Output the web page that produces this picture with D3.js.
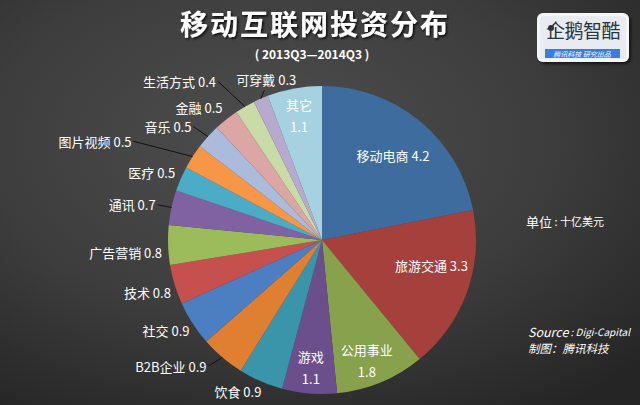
<!DOCTYPE html>
<html><head><meta charset="utf-8">
<script src="https://cdn.jsdelivr.net/npm/d3@7"></script>
<style>html,body{margin:0;padding:0;background:#333;}svg{display:block;}</style>
</head><body>
<svg id="chart" width="640" height="405"></svg>
<script>
// ---- data ----
const categories = ["移动电商","旅游交通","公用事业","游戏","饮食","B2B企业","社交","技术","广告营销","通讯","医疗","图片视频","音乐","金融","生活方式","可穿戴","其它"];
const values     = [4.2, 3.3, 1.8, 1.1, 0.9, 0.9, 0.9, 0.8, 0.8, 0.7, 0.5, 0.5, 0.5, 0.5, 0.4, 0.3, 1.1];
const colors     = ["#3f6c9f","#a5403d","#87a14c","#6a4f8c","#3a94aa","#e07f31","#4c7ec2","#c5504e","#9cbb5a","#8062a3","#4bacc6","#f79647","#aabbdc","#dca6a5","#c9dba6","#b8aacf","#a6d1e0"];
const insideSet  = ["移动电商","旅游交通","公用事业","游戏","其它"];
const twoLine    = ["公用事业","游戏","其它"];
const title = "移动互联网投资分布";
const subtitle = "( 2013Q3—2014Q3 )";

// ---- layout (not data) ----
const W = 640, H = 405, cx = 322, cy = 240, R = 154;
// label nudges: [radius, dx, dy]
const labelLayout = {
  "移动电商":[112,0,2], "旅游交通":[112,4,-12], "公用事业":[112,2,17], "游戏":[112,-2,15], "其它":[112,-3,-15],
  "饮食":[160,3,5], "B2B企业":[160,-12,4], "社交":[160,2,4], "技术":[160,2,6], "广告营销":[160,0,7],
  "通讯":[162,-8,-1], "医疗":[160,0,-4], "图片视频":[160,-56,-12], "音乐":[160,-12,-6],
  "金融":[160,0,-7], "生活方式":[160,-26,-20], "可穿戴":[150,4,-23]
};
const leaders = ["通讯","图片视频","音乐","生活方式","可穿戴","B2B企业"];

const svg = d3.select("#chart");
const defs = svg.append("defs");
const grad = defs.append("radialGradient").attr("id","bg").attr("cx","42%").attr("cy","35%").attr("r","80%");
grad.append("stop").attr("offset","0%").attr("stop-color","#4e4e4e");
grad.append("stop").attr("offset","55%").attr("stop-color","#3d3d3d");
grad.append("stop").attr("offset","100%").attr("stop-color","#252525");
svg.append("rect").attr("width",W).attr("height",H).attr("fill","url(#bg)");

const sh = defs.append("filter").attr("id","tshadow").attr("x","-10%").attr("y","-30%").attr("width","120%").attr("height","160%");
sh.append("feDropShadow").attr("dx",1.5).attr("dy",1.5).attr("stdDeviation",1).attr("flood-color","#000").attr("flood-opacity",0.8);
const sh2 = defs.append("filter").attr("id","boxshadow").attr("x","-20%").attr("y","-20%").attr("width","140%").attr("height","150%");
sh2.append("feDropShadow").attr("dx",2).attr("dy",2).attr("stdDeviation",1.5).attr("flood-color","#000").attr("flood-opacity",0.6);

const font = "'Noto Sans CJK SC','Noto Sans',sans-serif";

// title
svg.append("text").attr("x",315).attr("y",23).attr("text-anchor","middle").attr("dominant-baseline","central")
  .attr("font-family",font).attr("font-weight","bold").attr("font-size",28).attr("letter-spacing",2)
  .attr("fill","#ffffff").attr("filter","url(#tshadow)").text(title);
svg.append("text").attr("x",312).attr("y",53).attr("text-anchor","middle").attr("dominant-baseline","central")
  .attr("font-family",font).attr("font-weight","bold").attr("font-size",12)
  .attr("fill","#ffffff").text(subtitle);

// pie
const data = categories.map((c,i)=>({name:c, value:values[i], color:colors[i]}));
const pie = d3.pie().value(d=>d.value).sort(null);
const arcs = pie(data);
const arc = d3.arc().innerRadius(0).outerRadius(R);
const g = svg.append("g").attr("transform",`translate(${cx},${cy})`);
g.selectAll("path.slice").data(arcs).join("path").attr("class","slice")
  .attr("d",arc).attr("fill",d=>d.data.color).attr("stroke","none");

function polar(a, r){ return [r*Math.sin(a), -r*Math.cos(a)]; }

// leader lines
arcs.forEach(d=>{
  if(!leaders.includes(d.data.name)) return;
  const mid = (d.startAngle+d.endAngle)/2;
  const [ex,ey] = polar(mid, R);
  const L = labelLayout[d.data.name];
  const [lx,ly] = polar(mid, L[0]);
  let tx = lx+L[1]+2, ty = ly+L[2];
  if(d.data.name==="可穿戴"){ tx = lx+L[1]-2; ty = ly+L[2]+11; }
  g.append("path").attr("d",`M${tx},${ty}L${ex},${ey}`).attr("stroke","#111").attr("stroke-width",1).attr("fill","none");
});

// labels
arcs.forEach(d=>{
  const name = d.data.name, v = d3.format(".1f")(d.data.value);
  const mid = (d.startAngle+d.endAngle)/2;
  const L = labelLayout[name];
  const [px,py] = polar(mid, L[0]);
  const x = px+L[1], y = py+L[2];
  const inside = insideSet.includes(name);
  const t = g.append("text").attr("font-family",font).attr("font-size",13).attr("fill","#ffffff")
    .attr("dominant-baseline","central");
  if(inside){
    t.attr("text-anchor","middle");
    if(twoLine.includes(name)){
      t.append("tspan").attr("x",x).attr("y",y-11).text(name);
      t.append("tspan").attr("x",x).attr("y",y+11).text(v);
    } else {
      t.attr("x",x).attr("y",y).text(name+" "+v);
    }
  } else {
    const anchor = name==="可穿戴" ? "middle" : "end";
    t.attr("text-anchor",anchor).attr("x",x).attr("y",y).text(name+" "+v);
  }
});

// unit
const u = svg.append("text").attr("x",526).attr("y",221).attr("dominant-baseline","central")
  .attr("font-family",font).attr("fill","#ffffff");
u.append("tspan").attr("font-size",13).text("单位");
u.append("tspan").attr("font-size",11).text(" : 十亿美元");

// source
const s = svg.append("text").attr("x",528).attr("y",331).attr("dominant-baseline","central")
  .attr("font-family",font).attr("font-style","italic").attr("fill","#ffffff");
s.append("tspan").attr("font-size",12.5).text("Source");
s.append("tspan").attr("font-size",10).text(" : Digi-Capital");
svg.append("text").attr("x",528).attr("y",348).attr("dominant-baseline","central")
  .attr("font-family",font).attr("font-style","italic").attr("font-size",11.5).attr("fill","#ffffff").text("制图：腾讯科技");

// logo
const lg = svg.append("g");
lg.append("rect").attr("x",537).attr("y",13).attr("width",92).attr("height",49).attr("rx",6)
  .attr("fill","#f6f6f6").attr("filter","url(#boxshadow)");
lg.append("rect").attr("x",540).attr("y",16).attr("width",86).attr("height",43).attr("rx",4).attr("fill","#e8ebf0");
lg.append("text").attr("x",583).attr("y",38).attr("text-anchor","middle").attr("font-family",font)
  .attr("font-size",19).attr("font-weight","normal").attr("fill","#2a3342").attr("letter-spacing",-0.5).text("企鹅智酷");
lg.append("circle").attr("cx",551).attr("cy",28).attr("r",3).attr("fill","#2a3342");
lg.append("rect").attr("x",545).attr("y",49).attr("width",75).attr("height",9).attr("fill","#3a7de0");
lg.append("text").attr("x",582).attr("y",53.5).attr("text-anchor","middle").attr("dominant-baseline","central")
  .attr("font-family",font).attr("font-size",7).attr("font-style","italic").attr("fill","#ffffff").text("腾讯科技  研究出品");
</script>
</body></html>
